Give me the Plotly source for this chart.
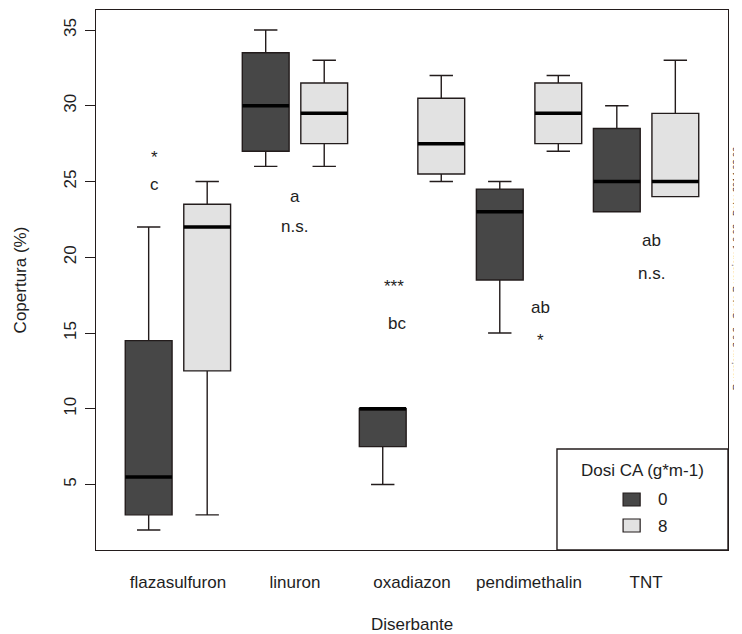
import plotly.graph_objects as go

# ---- data ----
categories = ["flazasulfuron", "linuron", "oxadiazon", "pendimethalin", "TNT"]
dose_labels = ["0", "8"]

# dose 0 (dark)
d0_min = [2, 26, 5, 15, 23]
d0_q1 = [3, 27, 7.5, 18.5, 23]
d0_med = [5.5, 30, 10, 23, 25]
d0_q3 = [14.5, 33.5, 10, 24.5, 28.5]
d0_max = [22, 35, 10, 25, 30]

# dose 8 (light)
d8_min = [3, 26, 25, 27, 24]
d8_q1 = [12.5, 27.5, 25.5, 27.5, 24]
d8_med = [22, 29.5, 27.5, 29.5, 25]
d8_q3 = [23.5, 31.5, 30.5, 31.5, 29.5]
d8_max = [25, 33, 32, 32, 33]

# significance letters / stars (text, x position, y position)
ann_text = ["*", "c", "a", "n.s.", "***", "bc", "ab", "*", "ab", "n.s."]
ann_x = [1.1, 1.1, 3.5, 3.5, 5.2, 5.25, 7.7, 7.7, 9.6, 9.6]
ann_y = [26.6, 24.8, 24.0, 22.0, 18.1, 15.6, 16.7, 14.5, 21.1, 18.9]

DARK = "#474747"
LIGHT = "#e2e2e2"
LINE = "#231c1c"
TXT = "#1e1e1e"
FONT = "Liberation Sans, Arial, sans-serif"
FS = 17

n = len(categories)
pos0 = [2 * i + 1 for i in range(n)]
pos8 = [2 * i + 2 for i in range(n)]

fig = go.Figure()

def add_box(pos, lo, q1, med, q3, hi, fill, name):
    fig.add_trace(go.Box(
        x=pos, lowerfence=lo, q1=q1, median=med, q3=q3, upperfence=hi,
        fillcolor=fill, line=dict(color=LINE, width=1.4),
        width=0.8, whiskerwidth=0.5, name=name, showlegend=False,
        boxpoints=False,
    ))
    # thick median line
    xs, ys = [], []
    for p, m in zip(pos, med):
        xs += [p - 0.4, p + 0.4, None]
        ys += [m, m, None]
    fig.add_trace(go.Scatter(x=xs, y=ys, mode="lines",
                             line=dict(color="#000000", width=3.5),
                             showlegend=False, hoverinfo="skip"))

add_box(pos0, d0_min, d0_q1, d0_med, d0_q3, d0_max, DARK, dose_labels[0])
add_box(pos8, d8_min, d8_q1, d8_med, d8_q3, d8_max, LIGHT, dose_labels[1])

for t, x, y in zip(ann_text, ann_x, ann_y):
    fig.add_annotation(x=x, y=y, text=t, showarrow=False, xref="x", yref="y",
                       xanchor="center", yanchor="middle",
                       font=dict(family=FONT, size=FS, color=TXT))

# legend (drawn as box in paper coordinates)
fig.add_shape(type="rect", xref="paper", yref="paper", x0=0.7294, x1=1.0, y0=0.0, y1=0.187,
              line=dict(color=LINE, width=1.4), fillcolor="white", layer="above")
fig.add_shape(type="rect", xref="paper", yref="paper", x0=0.834, x1=0.861, y0=0.0815, y1=0.1056,
              line=dict(color=LINE, width=1.2), fillcolor=DARK, layer="above")
fig.add_shape(type="rect", xref="paper", yref="paper", x0=0.834, x1=0.861, y0=0.0333, y1=0.0574,
              line=dict(color=LINE, width=1.2), fillcolor=LIGHT, layer="above")
for txt, lx, ly in [("Dosi CA (g*m-1)", 0.8655, 0.1463),
                    (dose_labels[0], 0.897, 0.0926),
                    (dose_labels[1], 0.897, 0.0444)]:
    fig.add_annotation(xref="paper", yref="paper", x=lx, y=ly, text=txt,
                       xanchor="center", yanchor="middle", showarrow=False,
                       font=dict(family=FONT, size=FS, color=TXT))

# version stamp on the right margin
fig.add_annotation(xref="paper", yref="paper", x=1.0, xshift=8, y=0.52, textangle=-90,
                   xanchor="center", yanchor="middle",
                   text="R version: 3.0.2 - Oneta R version: 1.0.02 - Date: 2014.02.06",
                   showarrow=False, font=dict(family=FONT, size=9, color=TXT))

# page body has an 8px default margin -> compensate in figure size/margins
fig.update_layout(
    width=734, height=626,
    margin=dict(l=88, r=14, t=2, b=84),
    paper_bgcolor="white", plot_bgcolor="white",
    font=dict(family=FONT, size=FS, color=TXT),
    boxmode="overlay",
    xaxis=dict(range=[0.1, 10.9], tickvals=[2 * i + 1.5 for i in range(n)], ticktext=categories,
               showgrid=False, zeroline=False, showline=True, mirror=True, automargin=False,
               linecolor=LINE, linewidth=1.4, ticks="", ticklabelstandoff=16,
               tickfont=dict(size=FS),
               title=dict(text="Diserbante", standoff=56, font=dict(size=FS))),
    yaxis=dict(range=[0.68, 36.32], tickvals=[5, 10, 15, 20, 25, 30, 35],
               showgrid=False, zeroline=False, showline=True, mirror=True, automargin=False,
               linecolor=LINE, linewidth=1.4, ticks="outside", ticklen=10,
               tickcolor=LINE, tickwidth=1.2, tickangle=-90, tickfont=dict(size=FS),
               ticklabelstandoff=2,
               title=dict(text="Copertura (%)", standoff=30, font=dict(size=FS))),
)

fig.write_html("out.html")
